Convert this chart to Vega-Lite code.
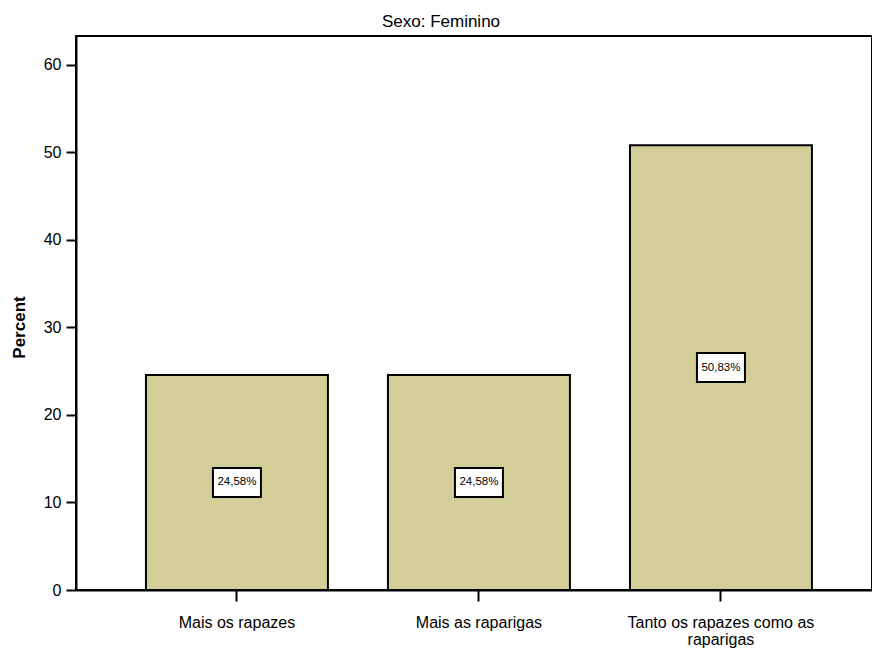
{
  "$schema": "https://vega.github.io/schema/vega-lite/v6.json",
  "autosize": "none",
  "width": 796,
  "height": 554,
  "padding": {"left": 76, "top": 36, "right": 0, "bottom": 60},
  "background": "white",
  "config": {
    "font": "Liberation Sans",
    "view": {"stroke": "black", "strokeWidth": 2}
  },
  "title": {
    "text": "Sexo: Feminino",
    "fontSize": 17,
    "fontWeight": "normal",
    "font": "Liberation Sans",
    "color": "black",
    "anchor": "middle",
    "baseline": "alphabetic",
    "dx": -33,
    "dy": 17,
    "offset": 9
  },
  "data": {
    "values": [
      {"categoria": "Mais os rapazes", "percent": 24.58, "label": "24,58%"},
      {"categoria": "Mais as raparigas", "percent": 24.58, "label": "24,58%"},
      {"categoria": "Tanto os rapazes como as raparigas", "percent": 50.83, "label": "50,83%"}
    ]
  },
  "encoding": {
    "x": {
      "field": "categoria",
      "type": "nominal",
      "sort": null,
      "scale": {"paddingInner": 0.248, "paddingOuter": 0.2686, "align": 0.538},
      "axis": {
        "title": null,
        "labelAngle": 0,
        "labelFontSize": 16,
        "labelColor": "black",
        "labelPadding": 13,
        "labelLineHeight": 17,
        "tickSize": 11,
        "tickColor": "black",
        "tickWidth": 2,
        "domainColor": "black",
        "domainWidth": 2,
        "labelLimit": 300,
        "labelExpr": "datum.value == 'Tanto os rapazes como as raparigas' ? ['Tanto os rapazes como as', 'raparigas'] : datum.value"
      }
    }
  },
  "layer": [
    {
      "mark": {"type": "bar", "fill": "#d3ce98", "stroke": "black", "strokeWidth": 2},
      "encoding": {
        "y": {
          "field": "percent",
          "type": "quantitative",
          "scale": {"domain": [0, 63.3], "nice": false},
          "axis": {
            "title": "Percent",
            "titleFontSize": 17,
            "titleFontWeight": "bold",
            "titleColor": "black",
            "titleX": -48,
            "titleY": 291,
            "values": [0, 10, 20, 30, 40, 50, 60],
            "grid": false,
            "labelFontSize": 16,
            "labelColor": "black",
            "labelPadding": 5,
            "tickSize": 10,
            "tickColor": "black",
            "tickWidth": 2,
            "domainColor": "black",
            "domainWidth": 2
          }
        }
      }
    },
    {
      "transform": [{"calculate": "datum.percent / 2", "as": "mid"}],
      "mark": {
        "type": "point",
        "shape": "M-1,-0.604L1,-0.604L1,0.604L-1,0.604Z",
        "size": 2304,
        "filled": true,
        "fill": "white",
        "stroke": "black",
        "strokeWidth": 2,
        "opacity": 1
      },
      "encoding": {
        "y": {"field": "mid", "type": "quantitative"}
      }
    },
    {
      "transform": [{"calculate": "datum.percent / 2", "as": "mid"}],
      "mark": {"type": "text", "fontSize": 11.5, "color": "black", "font": "Liberation Sans"},
      "encoding": {
        "y": {"field": "mid", "type": "quantitative"},
        "text": {"field": "label"}
      }
    }
  ]
}
